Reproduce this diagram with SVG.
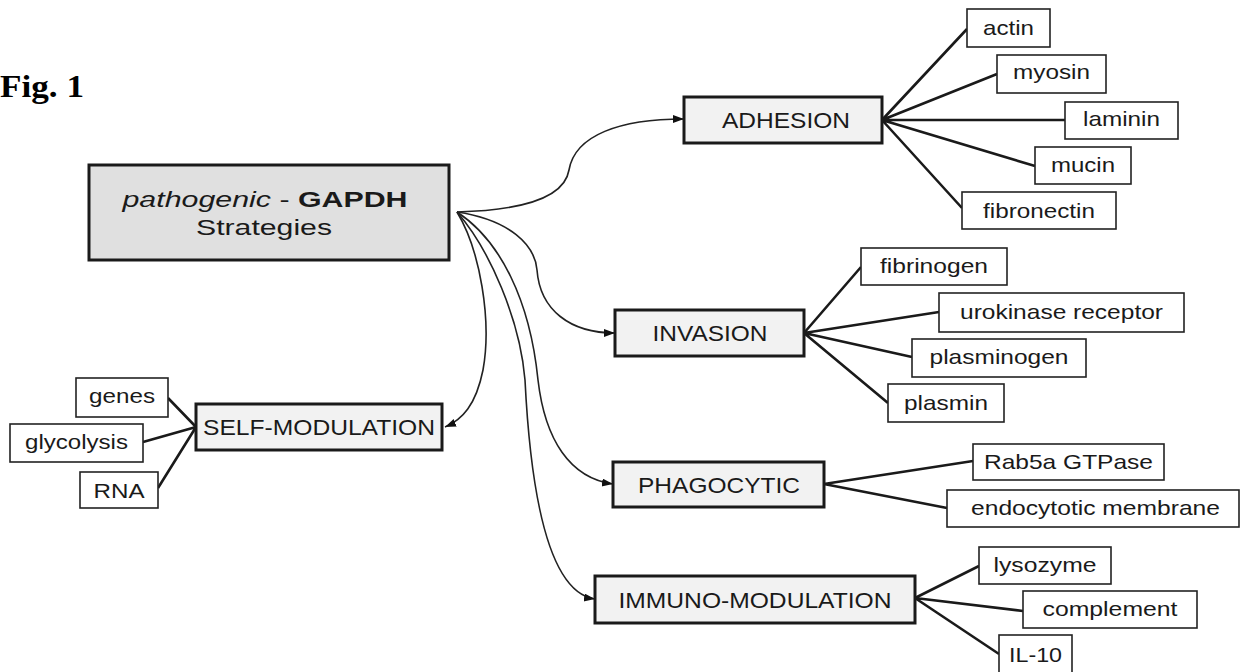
<svg xmlns="http://www.w3.org/2000/svg" width="1241" height="672" viewBox="0 0 1241 672">
<style>
.leaf rect{fill:#fff;stroke:#222;stroke-width:1.6}
.cat rect{fill:#f2f2f2;stroke:#1a1a1a;stroke-width:3}
.t{font-family:"Liberation Sans",Arial,sans-serif;fill:#1a1a1a;text-anchor:middle}
.lt{font-size:21px}
.ct{font-size:22px}
.spoke{stroke:#1a1a1a;stroke-width:2.6;fill:none}
.curve{stroke:#222;stroke-width:1.6;fill:none;marker-end:url(#ah)}
</style>
<defs>
<marker id="ah" markerUnits="userSpaceOnUse" markerWidth="12" markerHeight="10" refX="11" refY="4" orient="auto">
<path d="M0,0 L11,4 L0,8 Z" fill="#111"/>
</marker>
</defs>
<rect width="1241" height="672" fill="#fff"/>
<text x="0" y="97" font-family="'Liberation Serif','Times New Roman',serif" font-weight="bold" font-size="32" fill="#000" textLength="84" lengthAdjust="spacingAndGlyphs">Fig. 1</text>

<g id="connectors">
<path class="curve" d="M457,212 C530,210 565,195 569,170 C575,135 620,119 684,119"/>
<path class="curve" d="M457,212 C510,220 535,245 537,270 C540,310 570,333 615,333"/>
<path class="curve" d="M457,212 C480,250 492,320 483,370 C476,405 462,420 445,427"/>
<path class="curve" d="M457,212 C500,240 530,300 538,380 C545,440 570,478 613,484"/>
<path class="curve" d="M457,212 C490,250 520,320 525,380 C530,480 545,592 595,599"/>
<g id="spokes">
<path class="spoke" d="M882,120 L967,29 M882,120 L997,74 M882,120 L1065,120 M882,120 L1035,166 M882,120 L962,208"/>
<path class="spoke" d="M804,333 L861,267 M804,333 L939,312 M804,333 L912,357 M804,333 L888,403"/>
<path class="spoke" d="M824,484 L973,461 M824,484 L947,508"/>
<path class="spoke" d="M915,598 L979,566 M915,598 L1023,611 M915,598 L999,654"/>
<path class="spoke" d="M196,427 L168,398 M196,427 L143,442 M196,427 L158,488"/>
</g>
</g>

<g id="main">
<rect x="89" y="165" width="360" height="95" fill="#e0e0e0" stroke="#1a1a1a" stroke-width="3"/>
<text class="t" x="265" y="207" font-size="22" textLength="285" lengthAdjust="spacingAndGlyphs"><tspan font-style="italic">pathogenic</tspan> - <tspan font-weight="bold">GAPDH</tspan></text>
<text class="t" x="264" y="235" font-size="22" textLength="136" lengthAdjust="spacingAndGlyphs">Strategies</text>
</g>

<g id="adhesion" class="cat"><rect x="684" y="97" width="198" height="46"/><text class="t ct" x="786" y="128" textLength="128" lengthAdjust="spacingAndGlyphs">ADHESION</text></g>
<g id="invasion" class="cat"><rect x="615" y="310" width="189" height="46"/><text class="t ct" x="710" y="341" textLength="115" lengthAdjust="spacingAndGlyphs">INVASION</text></g>
<g id="self-modulation" class="cat"><rect x="196" y="404" width="246" height="46"/><text class="t ct" x="319" y="435" textLength="232" lengthAdjust="spacingAndGlyphs">SELF-MODULATION</text></g>
<g id="phagocytic" class="cat"><rect x="613" y="462" width="211" height="45"/><text class="t ct" x="719" y="492.5" textLength="162" lengthAdjust="spacingAndGlyphs">PHAGOCYTIC</text></g>
<g id="immuno-modulation" class="cat"><rect x="595" y="576" width="320" height="47"/><text class="t ct" x="755" y="607.5" textLength="273" lengthAdjust="spacingAndGlyphs">IMMUNO-MODULATION</text></g>

<g id="actin" class="leaf"><rect x="967" y="9" width="83" height="38"/><text class="t lt" x="1008.5" y="35" textLength="51" lengthAdjust="spacingAndGlyphs">actin</text></g>
<g id="myosin" class="leaf"><rect x="997" y="55" width="109" height="38"/><text class="t lt" x="1051.5" y="79" textLength="77" lengthAdjust="spacingAndGlyphs">myosin</text></g>
<g id="laminin" class="leaf"><rect x="1065" y="102" width="113" height="37"/><text class="t lt" x="1121.5" y="126" textLength="77" lengthAdjust="spacingAndGlyphs">laminin</text></g>
<g id="mucin" class="leaf"><rect x="1035" y="147" width="96" height="37"/><text class="t lt" x="1083" y="172" textLength="64" lengthAdjust="spacingAndGlyphs">mucin</text></g>
<g id="fibronectin" class="leaf"><rect x="962" y="192" width="154" height="37"/><text class="t lt" x="1039" y="218" textLength="112" lengthAdjust="spacingAndGlyphs">fibronectin</text></g>

<g id="fibrinogen" class="leaf"><rect x="861" y="248" width="146" height="37"/><text class="t lt" x="934" y="273" textLength="108" lengthAdjust="spacingAndGlyphs">fibrinogen</text></g>
<g id="urokinase-receptor" class="leaf"><rect x="939" y="293" width="245" height="39"/><text class="t lt" x="1061.5" y="319" textLength="203" lengthAdjust="spacingAndGlyphs">urokinase receptor</text></g>
<g id="plasminogen" class="leaf"><rect x="912" y="339" width="174" height="38"/><text class="t lt" x="999" y="364" textLength="139" lengthAdjust="spacingAndGlyphs">plasminogen</text></g>
<g id="plasmin" class="leaf"><rect x="888" y="384" width="116" height="38"/><text class="t lt" x="946" y="410" textLength="84" lengthAdjust="spacingAndGlyphs">plasmin</text></g>

<g id="rab5a" class="leaf"><rect x="973" y="444" width="191" height="36"/><text class="t lt" x="1068.5" y="469" textLength="169" lengthAdjust="spacingAndGlyphs">Rab5a GTPase</text></g>
<g id="endocytotic" class="leaf"><rect x="947" y="490" width="292" height="37"/><text class="t lt" x="1095.5" y="515" textLength="249" lengthAdjust="spacingAndGlyphs">endocytotic membrane</text></g>

<g id="lysozyme" class="leaf"><rect x="979" y="547" width="132" height="37"/><text class="t lt" x="1045" y="572" textLength="103" lengthAdjust="spacingAndGlyphs">lysozyme</text></g>
<g id="complement" class="leaf"><rect x="1023" y="591" width="174" height="37"/><text class="t lt" x="1110" y="616" textLength="135" lengthAdjust="spacingAndGlyphs">complement</text></g>
<g id="il10" class="leaf"><rect x="999" y="635" width="73" height="41"/><text class="t lt" x="1035.5" y="662" textLength="53" lengthAdjust="spacingAndGlyphs">IL-10</text></g>

<g id="genes" class="leaf"><rect x="76" y="378" width="92" height="39"/><text class="t lt" x="122" y="403" textLength="66" lengthAdjust="spacingAndGlyphs">genes</text></g>
<g id="glycolysis" class="leaf"><rect x="10" y="424" width="133" height="38"/><text class="t lt" x="76.5" y="449" textLength="103" lengthAdjust="spacingAndGlyphs">glycolysis</text></g>
<g id="rna" class="leaf"><rect x="80" y="472" width="78" height="36"/><text class="t lt" x="119" y="498" textLength="51" lengthAdjust="spacingAndGlyphs">RNA</text></g>
</svg>
